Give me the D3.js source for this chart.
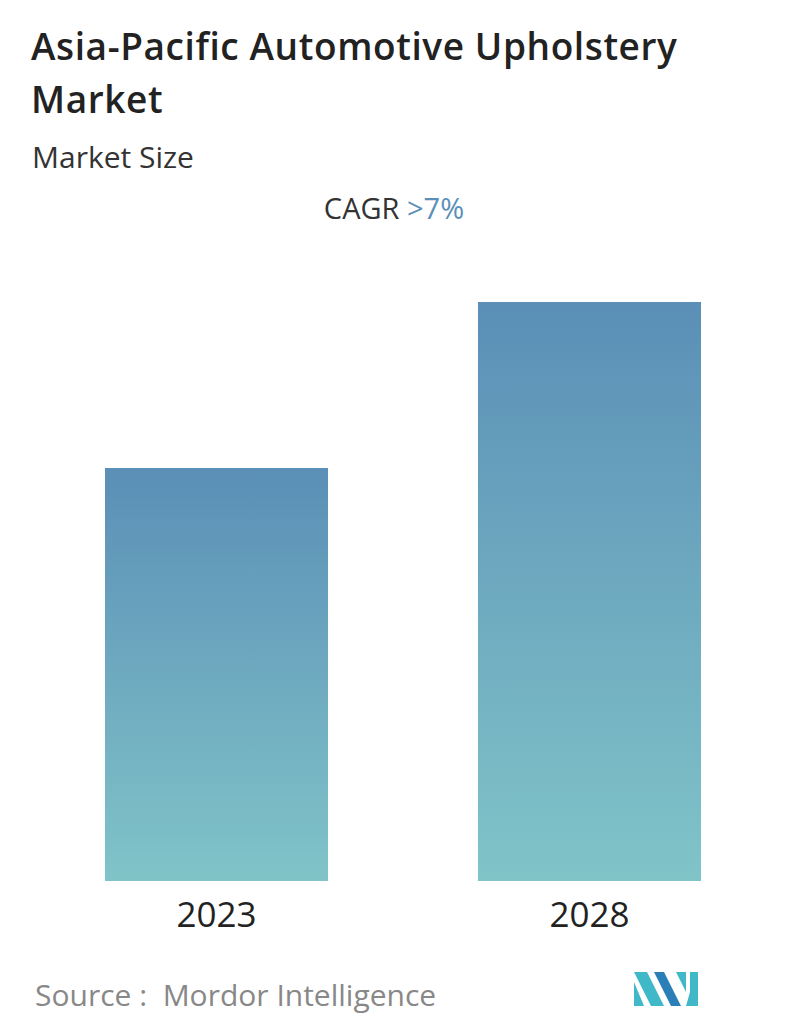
<!DOCTYPE html><html><head><meta charset="utf-8"><script src="https://cdn.jsdelivr.net/npm/d3@7"></script>
<style>body{margin:0;background:#fff}text{font-family:"Open Sans",sans-serif}</style></head><body><svg id="c" width="796" height="1034"></svg>
<script>
const categories=["2023","2028"];
const values=[1.0,1.402];
const svg=d3.select("#c");
const defs=svg.append("defs");
const g=defs.append("linearGradient").attr("id","gr").attr("x1",0).attr("y1",0).attr("x2",0).attr("y2",1);
g.append("stop").attr("offset",0).attr("stop-color","#5b8fb7");
g.append("stop").attr("offset",1).attr("stop-color","#80c4c8");
svg.append("text").attr("x",31).attr("y",60).attr("font-size",37).attr("font-weight",600).attr("letter-spacing",0.6).attr("fill","#222").text("Asia-Pacific Automotive Upholstery");
svg.append("text").attr("x",31).attr("y",113).attr("font-size",37).attr("font-weight",600).attr("letter-spacing",0.6).attr("fill","#222").text("Market");
svg.append("text").attr("x",32).attr("y",168).attr("font-size",30).attr("fill","#333").text("Market Size");
const t=svg.append("text").attr("x",394).attr("y",219).attr("text-anchor","middle").attr("font-size",29);
t.append("tspan").attr("fill","#333").text("CAGR ");
t.append("tspan").attr("fill","#5b8fb7").text(">7%");
const x=d3.scaleBand().domain(categories).range([105,701]).paddingInner(0.402).paddingOuter(0);
const y=d3.scaleLinear().domain([0,1.402]).range([881,302]);
svg.selectAll("rect.b").data(values).join("rect").attr("class","b")
 .attr("x",(d,i)=>x(categories[i])).attr("width",x.bandwidth()).attr("y",d=>y(d)).attr("height",d=>881-y(d)).attr("fill","url(#gr)");
svg.selectAll("text.l").data(categories).join("text").attr("class","l").attr("x",d=>x(d)+x.bandwidth()/2).attr("y",927).attr("text-anchor","middle").attr("font-size",35).attr("fill","#222").text(d=>d);
svg.append("text").attr("x",35).attr("y",1006).attr("font-size",30).attr("fill","#888").attr("xml:space","preserve").text("Source :  Mordor Intelligence");
const lg=svg.append("g").attr("transform","translate(634,972)");
lg.append("path").attr("d","M0,0 L13,0 L30,34 L17,34 Z M0,10 L0,34 L10,34 Z").attr("fill","#3fb8c8");
lg.append("path").attr("d","M20,0 L30,0 L47,34 L37,34 Z").attr("fill","#2a7fb8");
lg.append("path").attr("d","M42,0 L52,0 L52,20 Z M52,34 L64,34 L64,0 L56,0 L56,20 Z").attr("fill","#3fb8c8");
</script></body></html>
